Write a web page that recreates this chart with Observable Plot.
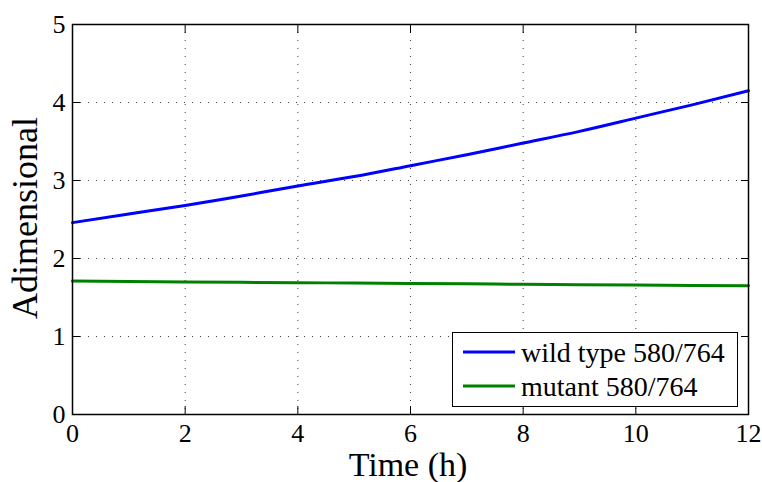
<!DOCTYPE html>
<html><head><meta charset="utf-8">
<script src="https://cdn.jsdelivr.net/npm/d3@7"></script>
<script src="https://cdn.jsdelivr.net/npm/@observablehq/plot@0.6"></script>
<style>
html,body{margin:0;padding:0;background:#fff;}
#chart{position:relative;width:762px;height:482px;}
</style></head><body><div id="chart"></div>
<script>
const hours = [0,1,2,3,4,5,6,7,8,9,10,11,12];
const wildType = [2.46,2.57,2.68,2.80,2.93,3.05,3.19,3.33,3.48,3.63,3.80,3.97,4.15];
const mutant = [1.71,1.705,1.70,1.695,1.69,1.685,1.68,1.675,1.67,1.665,1.66,1.655,1.65];
const seriesNames = ["wild type 580/764","mutant 580/764"];
const seriesColors = ["#0000ff","#008000"];
const xTicks = [0,2,4,6,8,10,12];
const yTicks = [0,1,2,3,4,5];
const xTitle = "Time (h)";
const yTitle = "Adimensional";
const serif = '"Liberation Serif","Times New Roman",serif';

const data = [];
hours.forEach((h,i)=>{
  data.push({t:h, v:wildType[i], s:seriesNames[0]});
  data.push({t:h, v:mutant[i], s:seriesNames[1]});
});

const plot = Plot.plot({
  width:762, height:482,
  marginLeft:72, marginRight:14, marginTop:24, marginBottom:68,
  style:{fontFamily:serif, fontSize:"26px", background:"#fff"},
  x:{domain:[0,12]},
  y:{domain:[0,5]},
  color:{domain:seriesNames, range:seriesColors},
  marks:[
    Plot.gridX(xTicks.slice(1,-1),{stroke:"#444", strokeOpacity:1, strokeWidth:1, strokeDasharray:"1,7"}),
    Plot.gridY(yTicks.slice(1,-1),{stroke:"#444", strokeOpacity:1, strokeWidth:1, strokeDasharray:"1,7"}),
    Plot.line(data,{x:"t", y:"v", z:"s", stroke:"s", strokeWidth:3, curve:"natural"}),
    Plot.axisX(xTicks,{anchor:"bottom", tickSize:-8, tickPadding:17, label:null, tickFormat:"d"}),
    Plot.axisX(xTicks,{anchor:"top", tickSize:-8, tickFormat:()=>"", label:null}),
    Plot.axisY(yTicks,{anchor:"left", tickSize:-8, tickPadding:15, label:null, tickFormat:"d"}),
    Plot.axisY(yTicks,{anchor:"right", tickSize:-8, tickFormat:()=>"", label:null}),
    Plot.frame({stroke:"#000", strokeWidth:1.5})
  ]
});
document.getElementById("chart").appendChild(plot);

const svg = d3.select(plot);
svg.style("font-family", serif).style("font-size", "26px");
svg.selectAll("text").style("font-family", serif).style("font-size", "26px");

// axis titles
svg.append("text").attr("x", 408).attr("y", 476).attr("text-anchor","middle")
  .style("font-size", "34px").style("font-family", serif).attr("fill","#000").text(xTitle);
svg.append("text").attr("transform","translate(37,218) rotate(-90)").attr("text-anchor","middle")
  .style("font-size", "36px").style("font-family", serif).attr("fill","#000").text(yTitle);

// legend
const lg = svg.append("g");
lg.append("rect").attr("x",452.5).attr("y",332.5).attr("width",285).attr("height",74)
  .attr("fill","#fff").attr("stroke","#000").attr("stroke-width",1);
seriesNames.forEach((n,i)=>{
  const y = 352 + i*34;
  lg.append("line").attr("x1",463).attr("x2",515).attr("y1",y).attr("y2",y)
    .attr("stroke",seriesColors[i]).attr("stroke-width",3);
  lg.append("text").attr("x",521).attr("y",y).attr("dy","0.35em").attr("text-anchor","start")
    .style("font-size","28px").style("font-family", serif).attr("fill","#000").text(n);
});
</script></body></html>
